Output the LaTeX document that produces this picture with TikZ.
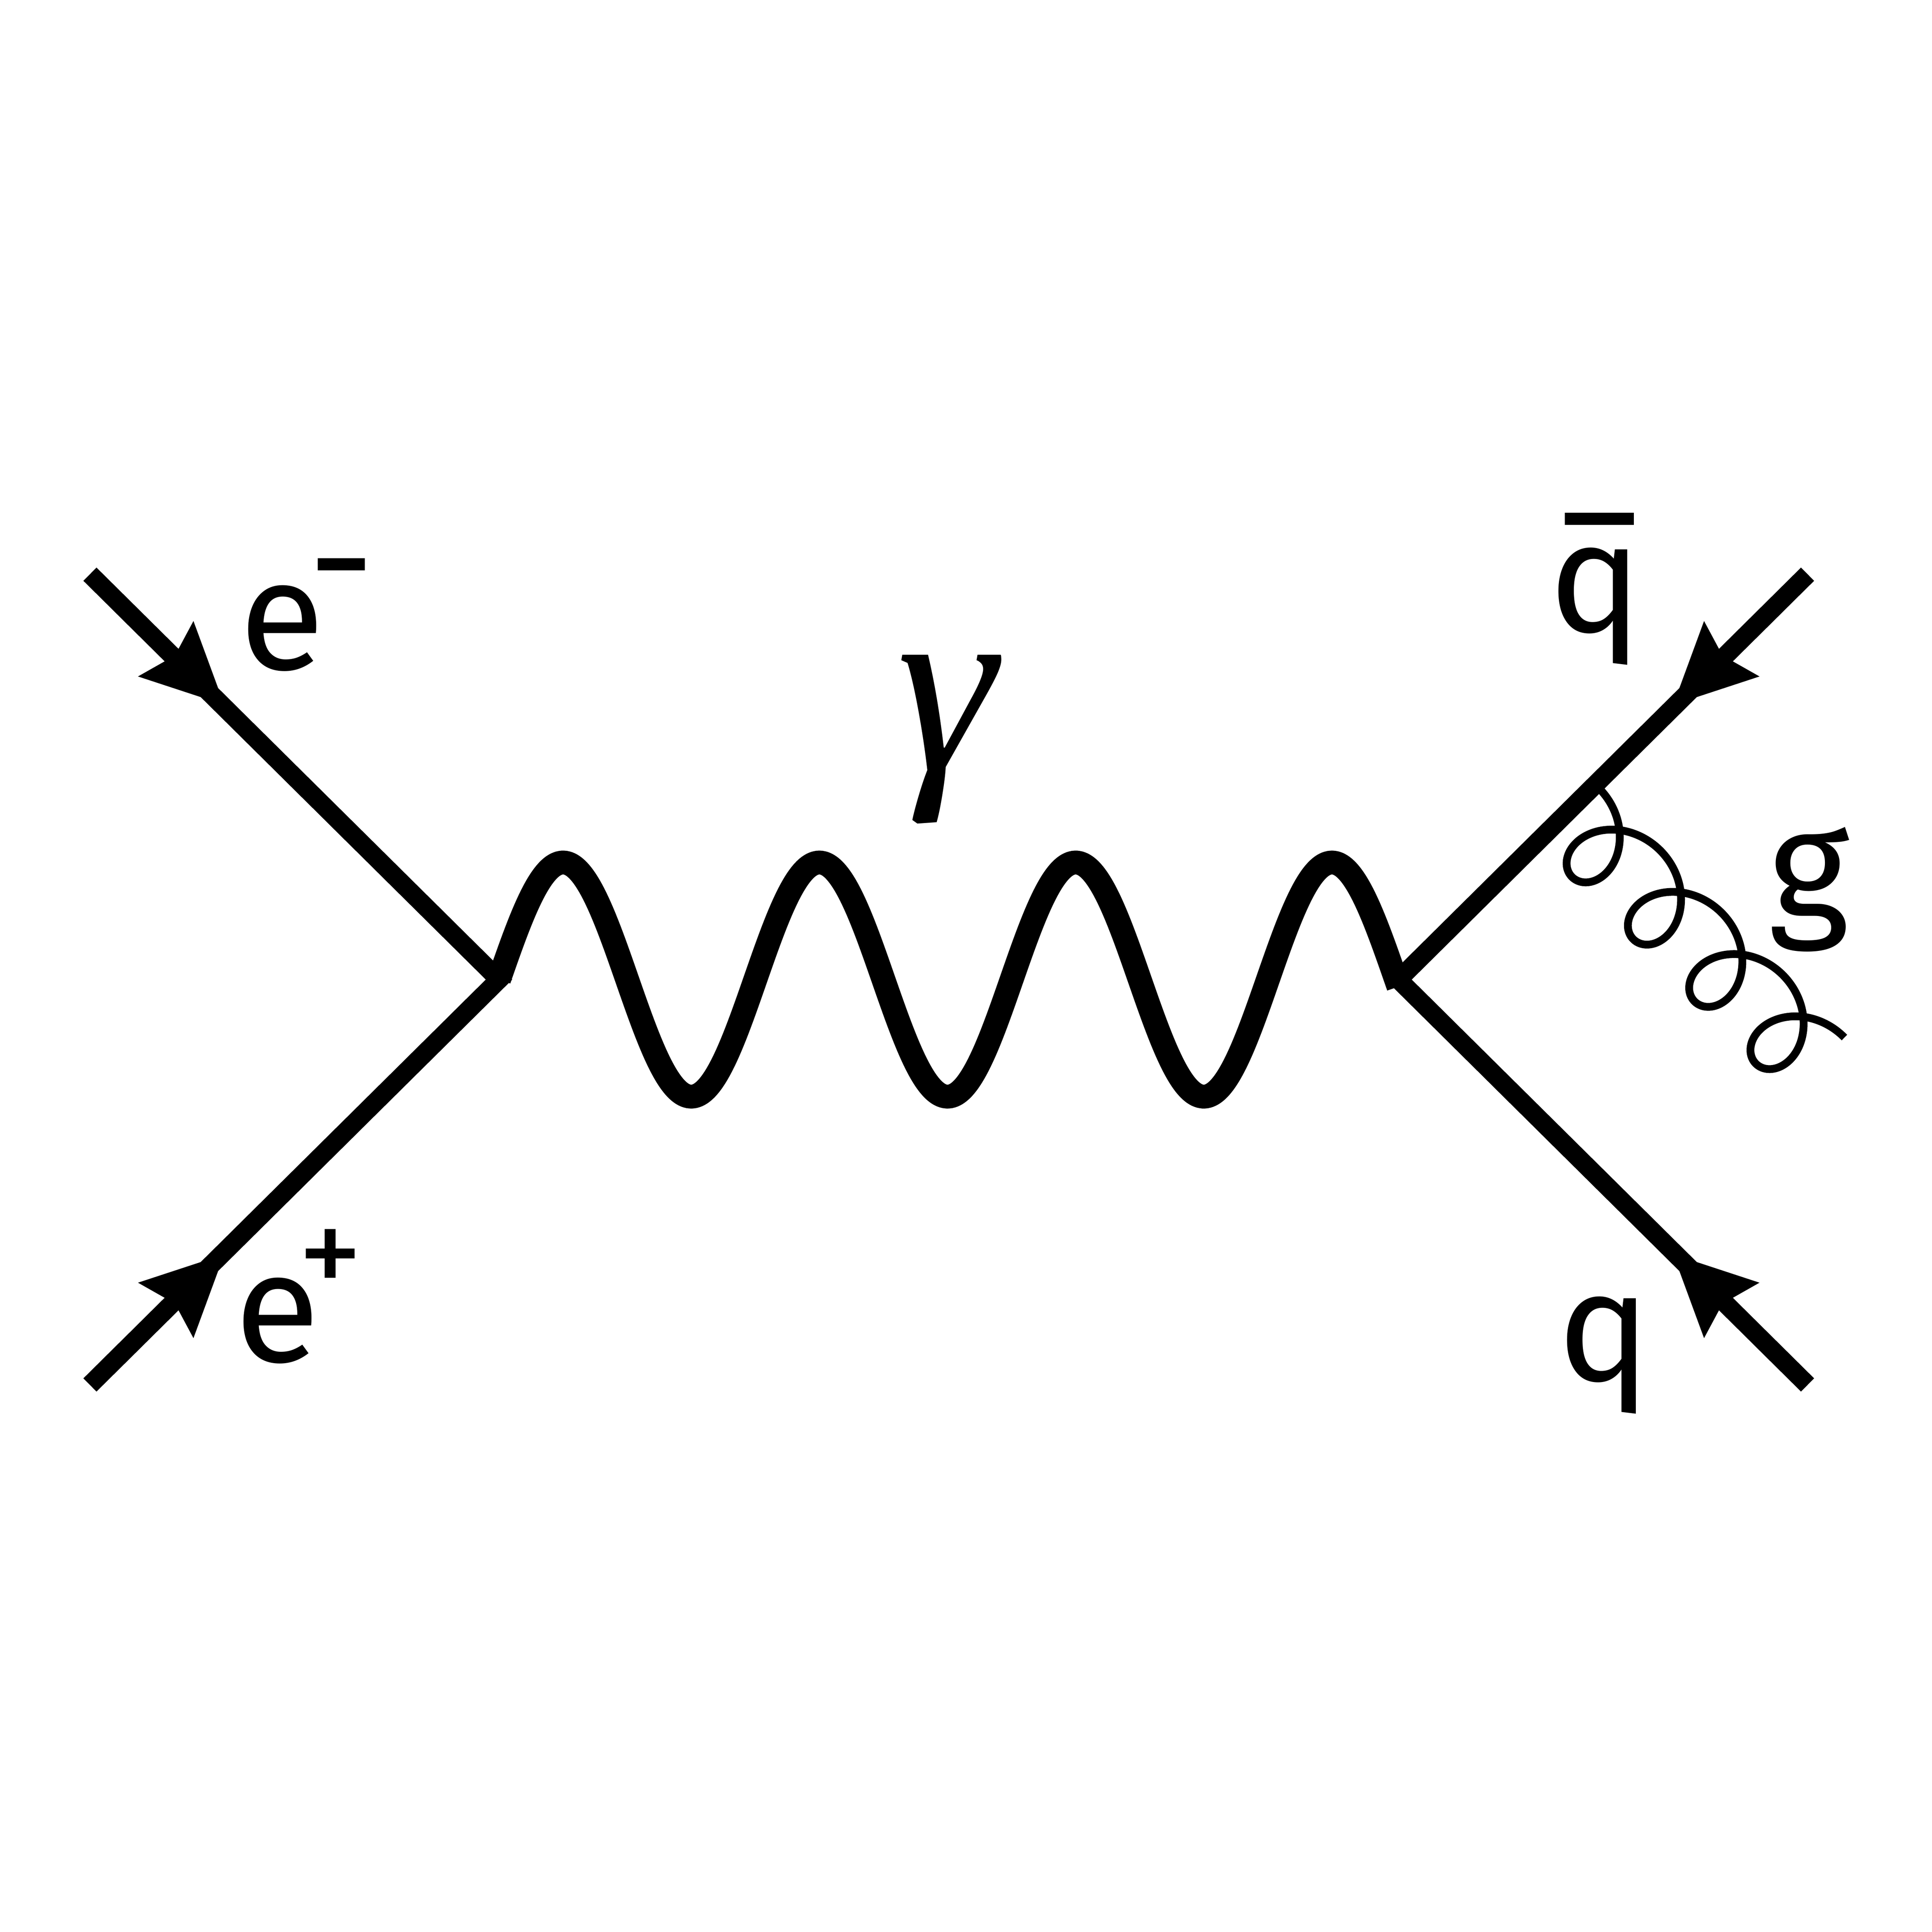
\documentclass[tikz,border=0pt]{standalone}
\usepackage{fontspec}
\setmainfont{Fira Sans}
\newfontfamily\gamfont{Liberation Serif}
\begin{document}
\begin{tikzpicture}[x=0.01cm,y=-0.01cm,
  fline/.style={line width=4.3pt},
  lab/.style={font=\fontsize{36}{42}\selectfont, inner sep=0pt},
  sup/.style={font=\fontsize{30}{34}\selectfont, inner sep=0pt}]
\useasboundingbox (0,0) rectangle (1568,1568);
\coordinate (L) at (405,795);
\coordinate (R) at (1135,795);
\coordinate (a) at (73,466);
\coordinate (b) at (73,1124);
\coordinate (c) at (1467,466);
\coordinate (d) at (1467,1124);
\draw[fline] (a) -- (L) -- (b);
\draw[fline] (c) -- (R) -- (d);
% arrowheads
\fill (182,572) -- (157,504) -- (142,532) -- (112,549) -- cycle;
\fill (182,1018) -- (157,1086) -- (142,1058) -- (112,1041) -- cycle;
\fill (1358,572) -- (1383,504) -- (1398,532) -- (1428,549) -- cycle;
\fill (1358,1018) -- (1383,1086) -- (1398,1058) -- (1428,1041) -- cycle;
% photon
\draw[line width=5.5pt, domain=0:730, samples=300, smooth] plot ({405+\x},{795-95*sin(\x/208*360)});
% gluon
\coordinate (g1) at (1298,640);
\coordinate (g2) at (1497,842);
\draw[line width=1.8pt, domain=0:1440, samples=400, smooth]
  plot ({1298 + 0.703*(0.19652*\x + 33*sin(\x)) - 0.714*(33*(1-cos(\x)))},
        {640 + 0.714*(0.19652*\x + 33*sin(\x)) + 0.703*(33*(1-cos(\x)))});
\node[lab] (em) at (229,510) {e};
\node[sup] (emsup) at (277,458) {\rule{0.38cm}{0.1cm}};
\node[lab] (ep) at (225,1072) {e};
\node[sup] (epsup) at (268,1025) {+};
\node[lab] (qb) at (1295,492) {q};
\node[lab] (qbbar) at (1298,421) {\rule{0.56cm}{0.1cm}};
\node[lab] (g) at (1468,722) {g};
\node[lab] (q) at (1302,1100) {q};
\node[font=\fontsize{58}{62}\selectfont\gamfont\itshape, inner sep=0pt] (gam) at (768,600) {γ};
\end{tikzpicture}
\end{document}
